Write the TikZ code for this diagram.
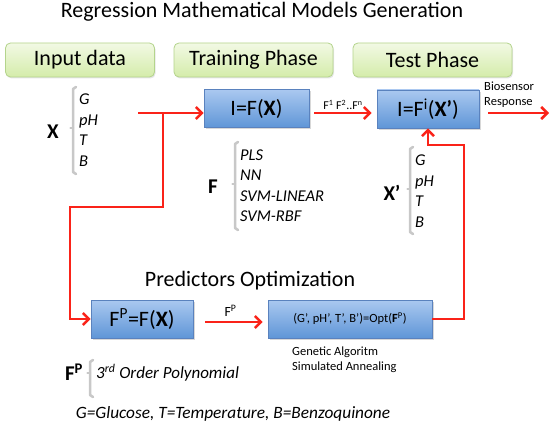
\documentclass[tikz,border=0pt]{standalone}
\usepackage{fontspec}
\setmainfont{Carlito}
\usetikzlibrary{arrows.meta,shadows}
\definecolor{redline}{RGB}{250,35,25}
\definecolor{greentop}{RGB}{242,249,228}
\definecolor{greenbot}{RGB}{212,236,170}
\definecolor{greenborder}{RGB}{180,212,140}
\definecolor{bluetop}{RGB}{170,200,240}
\definecolor{bluebot}{RGB}{95,150,215}
\definecolor{blueborder}{RGB}{90,130,190}
\definecolor{bracegray}{RGB}{200,200,200}
\newcommand{\fs}[1]{\fontsize{#1}{#1}\selectfont}
\newcommand{\mybrace}[4]{% x, ytop, ybottom, ynotch
  \draw[bracestyle] ({#1+3},#2) -- (#1,{#2+2}) -- (#1,{#3-2}) -- ({#1+3},#3);
  \draw[bracestyle] (#1,#4) -- ({#1-2.5},#4);}
\begin{document}
\begin{tikzpicture}[x=1pt,y=-1pt,
  phase/.style={draw=greenborder, line width=0.8pt, rounded corners=5pt, top color=greentop, bottom color=greenbot,
    minimum height=34pt, inner sep=0pt, font=\fs{22},
    drop shadow={opacity=0.2, shadow xshift=1pt, shadow yshift=-1.5pt}},
  bluebox/.style={draw=blueborder, line width=0.6pt, top color=bluetop, bottom color=bluebot,
    minimum height=38pt, inner sep=0pt,
    drop shadow={opacity=0.3, shadow xshift=1.5pt, shadow yshift=-2pt}},
  redarrow/.style={draw=redline, line width=2.5pt, -{Straight Barb[length=6pt,width=12pt]}},
  bracestyle/.style={draw=bracegray, line width=2.5pt, line cap=round, line join=round},
  listtxt/.style={anchor=west, align=left, inner sep=0pt, font=\fontsize{16.5}{20.5}\selectfont\itshape},
  biglbl/.style={inner sep=0pt, font=\fs{21}\bfseries}
]
\useasboundingbox (0,0) rectangle (550,428);
\fill[white] (0,0) rectangle (550,428);

% Title
\node[font=\fs{22}] (title) at (262,12) {Regression Mathematical Models Generation};

% phase boxes
\node[phase, minimum width=149pt] (input) at (80,60) {Input data};
\node[phase, minimum width=159pt] (train) at (253.5,60) {Training Phase};
\node[phase, minimum width=159pt] (test) at (432.5,60) {Test Phase};

% blue boxes
\node[bluebox, minimum width=105pt, font=\fs{22}] (IF) at (256.5,108.5) {I=F(\textbf{X})};
\node[bluebox, minimum width=102pt, font=\fs{22}] (IFi) at (428,109) {I=F\textsuperscript{i}(\textbf{X’})};
\node[bluebox, minimum width=102pt, font=\fs{22}] (FP) at (142,319) {F\textsuperscript{P}=F(\textbf{X})};
\node[bluebox, minimum width=164pt, font=\fs{12.5}] (Opt) at (350,319) {(G’, pH’, T’, B’)=Opt(\textbf{F}\textsuperscript{P})};

% X input list
\node[biglbl] (Xl) at (53,132) {X};
\mybrace{73}{87}{174}{128}
\node[listtxt] (Xlist) at (79,130) {G\\pH\\T\\B};

% F list
\node[biglbl] (Fl) at (213,187) {F};
\mybrace{235}{142}{230}{184}
\node[listtxt] (Flist) at (240,185.5) {PLS\\NN\\SVM-LINEAR\\SVM-RBF};

% X' list
\node[biglbl] (Xpl) at (392,193) {X’};
\mybrace{410}{147}{234}{189}
\node[listtxt] (Xplist) at (415,191) {G\\pH\\T\\B};

% FP list
\node[biglbl] (FPl) at (74,372) {F\textsuperscript{P}};
\mybrace{90}{360}{397}{373}
\node[inner sep=0pt, anchor=west, font=\fs{17}\itshape] (poly) at (96,373) {3\textsuperscript{rd} Order Polynomial};

% Predictors optimization title
\node[font=\fs{22}] (predopt) at (250,281) {Predictors Optimization};

% algorithms
\node[inner sep=0pt, anchor=west, align=left, font=\fontsize{12.5}{15}\selectfont] (algs) at (292,360) {Genetic Algoritm\\Simulated Annealing};

% legend
\node[inner sep=0pt, font=\fs{17.3}\itshape] (legend) at (233,414) {G=Glucose, T=Temperature, B=Benzoquinone};

% connectors
\coordinate (xs) at (138,113);
\coordinate (j) at (163,113);
\coordinate (c1) at (163,207);
\coordinate (c2) at (70,207);
\coordinate (bio) at (549,113);
\coordinate (c3) at (464,145);

\draw[redarrow] (xs) -- (IF.west |- xs);
\draw[redarrow] (j) -- (c1) -- (c2) |- (FP.west);
\draw[redarrow, shorten <=5pt, shorten >=5pt] (IF.east |- xs) -- node[above=1pt, inner sep=1pt, font=\fs{12}] (flbl) {F\textsuperscript{1} F\textsuperscript{2}..F\textsuperscript{n}} (IFi.west |- xs);
\draw[redarrow, shorten <=9pt] (IFi.east |- bio) -- (bio);
\node[inner sep=0pt, align=left, anchor=west, font=\fontsize{12.5}{15}\selectfont] (biolbl) at (484,95) {Biosensor\\Response};
\draw[redarrow, shorten <=12pt, shorten >=5pt] (FP.east |- 0,322) -- node[above=3pt, inner sep=1pt, font=\fs{14}] (fplbl) {F\textsuperscript{P}} (Opt.west |- 0,322);
\draw[redarrow] (Opt.east) -| (c3) -| (IFi.south);
\end{tikzpicture}
\end{document}
